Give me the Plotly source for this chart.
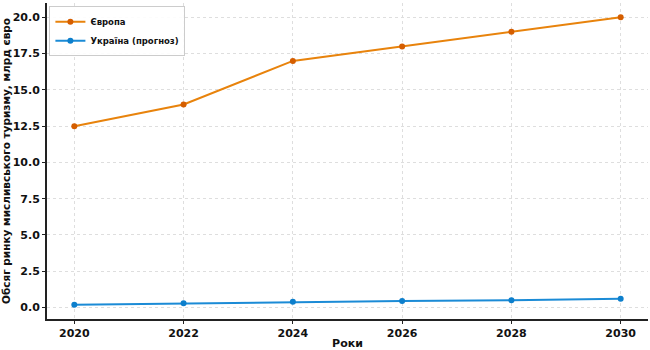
import plotly.graph_objects as go

years = [2020, 2022, 2024, 2026, 2028, 2030]
europe = [12.5, 14.0, 17.0, 18.0, 19.0, 20.0]
ukraine = [0.2, 0.3, 0.4, 0.45, 0.5, 0.6]
y_ticks = [0.0, 2.5, 5.0, 7.5, 10.0, 12.5, 15.0, 17.5, 20.0]

font_family = "DejaVu Sans"

fig = go.Figure()
fig.add_trace(go.Scatter(
    x=years, y=europe, mode="lines+markers", name="Європа",
    line=dict(color="#E8830C", width=2),
    marker=dict(color="#D55E00", size=6),
))
fig.add_trace(go.Scatter(
    x=years, y=ukraine, mode="lines+markers", name="Україна (прогноз)",
    line=dict(color="#1B8BD6", width=2),
    marker=dict(color="#0D7FCC", size=6),
))

grid = dict(showgrid=True, gridcolor="#dedede", griddash="dot", gridwidth=1)

fig.update_layout(
    width=650, height=350,
    margin=dict(l=47, r=2, t=3, b=31),
    paper_bgcolor="white", plot_bgcolor="white",
    font=dict(family=font_family, color="#111", size=11),
    showlegend=True,
    legend=dict(
        x=0.004, y=0.99, xanchor="left", yanchor="top",
        bgcolor="rgba(255,255,255,0.9)", bordercolor="#cccccc", borderwidth=1,
        font=dict(family=font_family, size=8.5, color="#111", weight="bold"),
        itemwidth=30, tracegroupgap=0,
    ),
    xaxis=dict(
        range=[2019.5, 2030.5], tickvals=years, ticktext=[str(y) for y in years],
        **grid, automargin=False,
        showline=True, linecolor="#222", linewidth=2, zeroline=False,
        ticks="outside", ticklen=3, tickcolor="#222", tickwidth=1,
        tickfont=dict(size=11, weight="bold"),
        title=dict(text="Роки", font=dict(size=11, weight="bold"), standoff=2),
    ),
    yaxis=dict(
        range=[-0.79, 20.99], tickvals=y_ticks, ticktext=[f"{v:.1f}" for v in y_ticks],
        **grid, automargin=False,
        showline=True, linecolor="#222", linewidth=2, zeroline=False,
        ticks="outside", ticklen=3, tickcolor="#222", tickwidth=1,
        tickfont=dict(size=11, weight="bold"),
        title=dict(text="Обсяг ринку мисливського туризму, млрд євро",
                   font=dict(size=10.5, weight="bold"), standoff=5),
    ),
)

fig.write_html("out.html")
